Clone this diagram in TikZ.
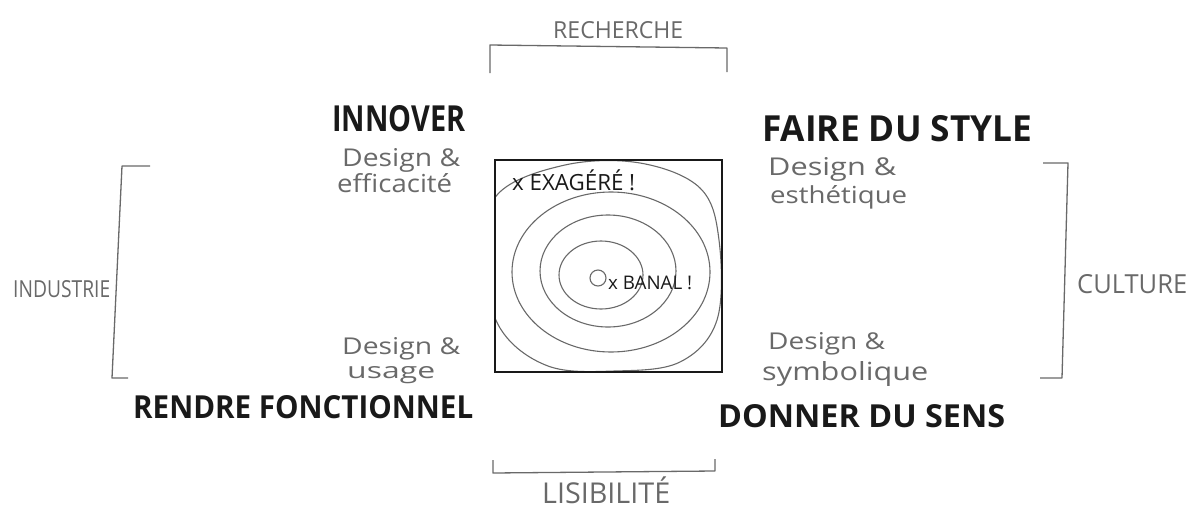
\documentclass[tikz,border=0pt]{standalone}
\usepackage{fontspec}
\setmainfont{Open Sans}
\definecolor{pen}{RGB}{105,105,105}
\definecolor{ink}{RGB}{25,25,25}
\newcommand{\fitwh}[3]{\resizebox{#1pt}{#2pt}{#3}}
\newcommand{\fitw}[2]{\resizebox{#1pt}{!}{#2}}
\tikzset{
  title/.style={text=ink, inner sep=0pt, anchor=base west, font=\bfseries},
  sub/.style={text=pen, inner sep=0pt, anchor=base west},
  axis/.style={text=pen, inner sep=0pt, anchor=base west},
  bracket/.style={draw=pen, line width=1.3pt, line join=round},
  ring/.style={draw=pen, line width=1.1pt},
}
\begin{document}
\begin{tikzpicture}[x=1pt,y=-1pt]
\useasboundingbox (0,0) rectangle (1192,509);
% rings (clipped by the square)
\begin{scope}
\clip (495,160) rectangle (722,372);
\draw[ring] plot[smooth cycle, tension=0.6] coordinates {(640,163) (700,188) (719,240) (717,320) (680,362) (615,371) (548,366) (500,328) (484,260) (497,195) (565,165)};
\end{scope}
\draw[ring] (611,272) ellipse [x radius=99, y radius=80];
\draw[ring] (608,271) ellipse [x radius=68, y radius=56];
\draw[ring] (601,275) ellipse [x radius=42, y radius=34];
\draw[ring] (598,278) circle [radius=8];
% central square
\node[draw=ink, line width=2.4pt, minimum width=227pt, minimum height=212pt, inner sep=0pt] (sq) at (608.5,266) {};
\node[axis, text=ink] (exag) at (512,190) {\fitw{123}{x EXAGÉRÉ !}};
\node[axis, text=ink] (banal) at (608,289) {\fitw{84}{x BANAL !}};
% top bracket
\coordinate (t1) at (490,73); \coordinate (t2) at (490,45); \coordinate (t3) at (727,48); \coordinate (t4) at (727,72);
\draw[bracket] (t1) -- (t2) -- (t3) -- (t4);
\node[axis] (rech) at (553,38) {\fitwh{130}{17}{RECHERCHE}};
% bottom bracket
\coordinate (b1) at (493,460); \coordinate (b2) at (493,473); \coordinate (b3) at (715,471); \coordinate (b4) at (715,459);
\draw[bracket] (b1) -- (b2) -- (b3) -- (b4);
\node[axis] (lis) at (542,503) {\fitw{128}{LISIBILITÉ}};
% left bracket
\coordinate (l1) at (150,166); \coordinate (l2) at (122,166); \coordinate (l3) at (112,378); \coordinate (l4) at (128,378);
\draw[bracket] (l1) -- (l2) -- (l3) -- (l4);
\node[axis] (ind) at (13,297) {\fitwh{97}{17}{INDUSTRIE}};
% right bracket
\coordinate (r1) at (1043,163); \coordinate (r2) at (1068,163); \coordinate (r3) at (1062,378); \coordinate (r4) at (1040,378);
\draw[bracket] (r1) -- (r2) -- (r3) -- (r4);
\node[axis] (cul) at (1077,293) {\fitwh{110}{19}{CULTURE}};
% quadrants
\node[title] (inn) at (332,131) {\fitwh{133}{26}{INNOVER}};
\node[sub] (d1a) at (342,166) {\fitwh{118}{18}{Design \&}};
\node[sub] (d1b) at (337,192) {\fitwh{115}{19}{efficacité}};
\node[title] (fds) at (762,141) {\fitwh{270}{26}{FAIRE DU STYLE}};
\node[sub] (d2a) at (768,175) {\fitwh{128}{18}{Design \&}};
\node[sub] (d2b) at (770,203) {\fitwh{137}{18}{esthétique}};
\node[sub] (d3a) at (342,354) {\fitwh{118}{17}{Design \&}};
\node[sub] (d3b) at (347,378) {\fitwh{88}{12}{usage}};
\node[title] (ren) at (133,418) {\fitwh{340}{23}{RENDRE FONCTIONNEL}};
\node[sub] (d4a) at (768,349) {\fitwh{117}{17}{Design \&}};
\node[sub] (d4b) at (762,380) {\fitwh{166}{19}{symbolique}};
\node[title] (don) at (718,427) {\fitwh{287}{23}{DONNER DU SENS}};
\end{tikzpicture}
\end{document}
